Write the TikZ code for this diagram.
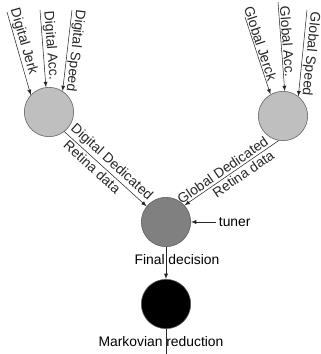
\documentclass[tikz,border=0pt]{standalone}
\usepackage{fontspec}
\setmainfont{Liberation Sans}
\begin{document}
\begin{tikzpicture}[x=0.75pt,y=-0.75pt,
    font=\fontsize{10.4}{12}\selectfont,
    ball/.style={circle,draw=black!65,minimum size=37pt,inner sep=0pt},
    feed/.style={-latex,black!85}]
    \useasboundingbox (0,0) rectangle (321,354);

    \node[ball,fill=black!25] (dig) at (49,112) {};
    \node[ball,fill=black!25] (glob) at (283,116) {};
    \node[ball,fill=black!50] (fuse) at (166,222) {};
    \node[ball,fill=black] (markov) at (166,304) {};

    % inputs
    \foreach \n/\x/\y/\to/\p/\t in {dj/7/12/dig.137/0.38/Digital Jerk, da/40/10/dig.97/0.47/Digital Acc.,
                                    ds/72/10/dig.57/0.49/Digital Speed, gj/245/17/glob.120/0.37/Global Jerck,
                                    ga/278/2/glob.86/0.45/Global Acc., gs/307/10/glob.52/0.5/Global Speed} {
        \coordinate (\n) at (\x,\y);
        \draw[feed] (\n) -- (\to) node[pos=\p,sloped,above,allow upside down,inner sep=0.8pt] {\t};
    }

    \draw[feed] (dig.-52) -- (fuse.141)
        node[midway,sloped,above,inner sep=1.5pt] {Digital Dedicated}
        node[pos=0.4,sloped,below,inner sep=1.5pt] {Retina data};
    \draw[feed] (glob.-100) -- (fuse.42)
        node[pos=0.55,sloped,above,inner sep=1.5pt] {Global Dedicated}
        node[pos=0.42,sloped,below,inner sep=1.5pt] {Retina data};

    \node[right,inner sep=2pt] (tun) at (216,222) {tuner};
    \draw[feed] (tun) -- (fuse);

    \draw[feed] (fuse) -- (markov);
    \node (fdec) at (177,260) {Final decision};

    \coordinate (out) at (166,354);
    \draw[black!85] (markov) -- (out);
    \node (mred) at (161,342) {Markovian reduction};
\end{tikzpicture}
\end{document}
